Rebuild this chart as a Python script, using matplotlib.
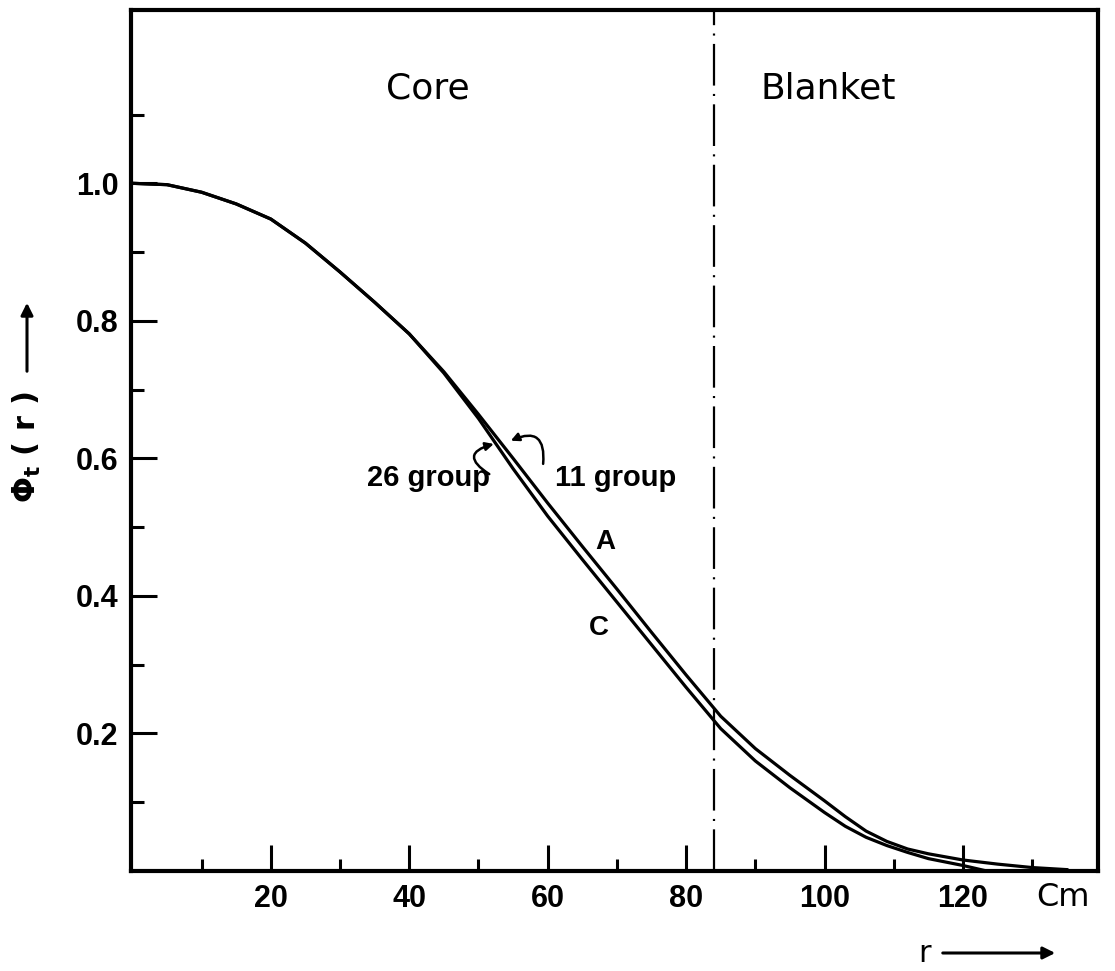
import matplotlib
matplotlib.use("Agg")
import matplotlib.pyplot as plt

# ---- data ----
r_A = [0, 5, 10, 15, 20, 25, 30, 35, 40, 45, 50, 55, 60, 65, 70, 75, 80,
       85, 90, 95, 100, 103, 106, 109, 112, 115, 120, 125, 130, 135]
phi_A = [1.000, 0.998, 0.987, 0.970, 0.948, 0.913, 0.871, 0.827, 0.781,
         0.726, 0.664, 0.600, 0.535, 0.472, 0.410, 0.347, 0.285, 0.225,
         0.178, 0.139, 0.102, 0.079, 0.058, 0.043, 0.032, 0.025, 0.016,
         0.010, 0.005, 0.002]

r_C = [0, 5, 10, 15, 20, 25, 30, 35, 40, 45, 50, 55, 60, 65, 70, 75, 80,
       85, 90, 95, 100, 103, 106, 109, 112, 115, 120, 123]
phi_C = [1.000, 0.998, 0.987, 0.970, 0.948, 0.913, 0.871, 0.827, 0.781,
         0.724, 0.658, 0.585, 0.516, 0.453, 0.391, 0.329, 0.267, 0.207,
         0.160, 0.121, 0.085, 0.065, 0.049, 0.037, 0.027, 0.018, 0.008,
         0.001]

core_boundary = 84
x_major = [20, 40, 60, 80, 100, 120]
x_minor = [10, 30, 50, 70, 90, 110, 130]
y_major = [0.2, 0.4, 0.6, 0.8, 1.0]
y_minor = [0.1, 0.3, 0.5, 0.7, 0.9, 1.1]
x_labels = ["20", "40", "60", "80", "100", "120"]
y_labels = ["0.2", "0.4", "0.6", "0.8", "1.0"]

W, H = 1115, 971
fig = plt.figure(figsize=(W / 100, H / 100), dpi=100)
ax = fig.add_axes([131 / W, 1 - 871 / H, (1098 - 131) / W, (871 - 10) / H])

ax.plot(r_A, phi_A, color="black", lw=2.3, solid_joinstyle="round")
ax.plot(r_C, phi_C, color="black", lw=2.3, solid_joinstyle="round")

lw_dd = 1.6
ax.axvline(core_boundary, color="black", lw=lw_dd,
           linestyle=(0, (30 / lw_dd, 6 / lw_dd, 1.5 / lw_dd, 6 / lw_dd)))

ax.set_xlim(-0.2, 139.5)
ax.set_ylim(0, 1.252)

for s in ax.spines.values():
    s.set_linewidth(3)

ax.set_xticks(x_major)
ax.set_xticklabels(x_labels)
ax.set_xticks(x_minor, minor=True)
ax.set_yticks(y_major)
ax.set_yticklabels(y_labels)
ax.set_yticks(y_minor, minor=True)
ax.tick_params(which="major", direction="in", length=19, width=2.2, pad=9)
ax.tick_params(which="minor", direction="in", length=9, width=2.2)
for lab in ax.get_xticklabels() + ax.get_yticklabels():
    lab.set_fontfamily("Liberation Sans")
    lab.set_fontweight("bold")
    lab.set_fontsize(22)

# region labels
ax.text(42.7, 1.138, "Core", fontsize=26, family="DejaVu Sans",
        ha="center", va="center")
ax.text(100.5, 1.138, "Blanket", fontsize=26, family="DejaVu Sans",
        ha="center", va="center")

# curve labels
ax.text(51.7, 0.571, "26 group", fontsize=21, family="Liberation Sans",
        fontweight="bold", ha="right", va="center")
ax.text(61.0, 0.571, "11 group", fontsize=21, family="Liberation Sans",
        fontweight="bold", ha="left", va="center")
ax.text(68.3, 0.478, "A", fontsize=20, family="Liberation Sans",
        fontweight="bold", ha="center", va="center")
ax.text(67.4, 0.354, "C", fontsize=20, family="Liberation Sans",
        fontweight="bold", ha="center", va="center")

ax.annotate("", xy=(52.6, 0.622), xytext=(51.9, 0.575),
            arrowprops=dict(arrowstyle="-|>", color="black", lw=1.8,
                            connectionstyle="arc3,rad=-1.2",
                            mutation_scale=12))
ax.annotate("", xy=(54.3, 0.624), xytext=(59.3, 0.588),
            arrowprops=dict(arrowstyle="-|>", color="black", lw=1.8,
                            connectionstyle="arc3,rad=0.9",
                            mutation_scale=12))

# unit label
ax.text(134.5, -0.038, "Cm", fontsize=23, family="DejaVu Sans",
        ha="center", va="center", clip_on=False)

# axis labels with arrows (figure pixel coordinates)
fig.text(27, H - 447, r"$\mathbf{\Phi_t}$ ( r )", fontsize=22,
         fontweight="bold", rotation=90, ha="center", va="center",
         transform=None)
ax.annotate("", xy=(27, H - 300), xycoords="figure pixels",
            xytext=(27, H - 374), textcoords="figure pixels",
            arrowprops=dict(arrowstyle="-|>", color="black", lw=2.2,
                            mutation_scale=18))
fig.text(925, H - 953, "r", fontsize=22,
         ha="center", va="center", transform=None)
ax.annotate("", xy=(1058, H - 953), xycoords="figure pixels",
            xytext=(940, H - 953), textcoords="figure pixels",
            arrowprops=dict(arrowstyle="-|>", color="black", lw=2.2,
                            mutation_scale=18))

fig.savefig("out.png", dpi=100)
